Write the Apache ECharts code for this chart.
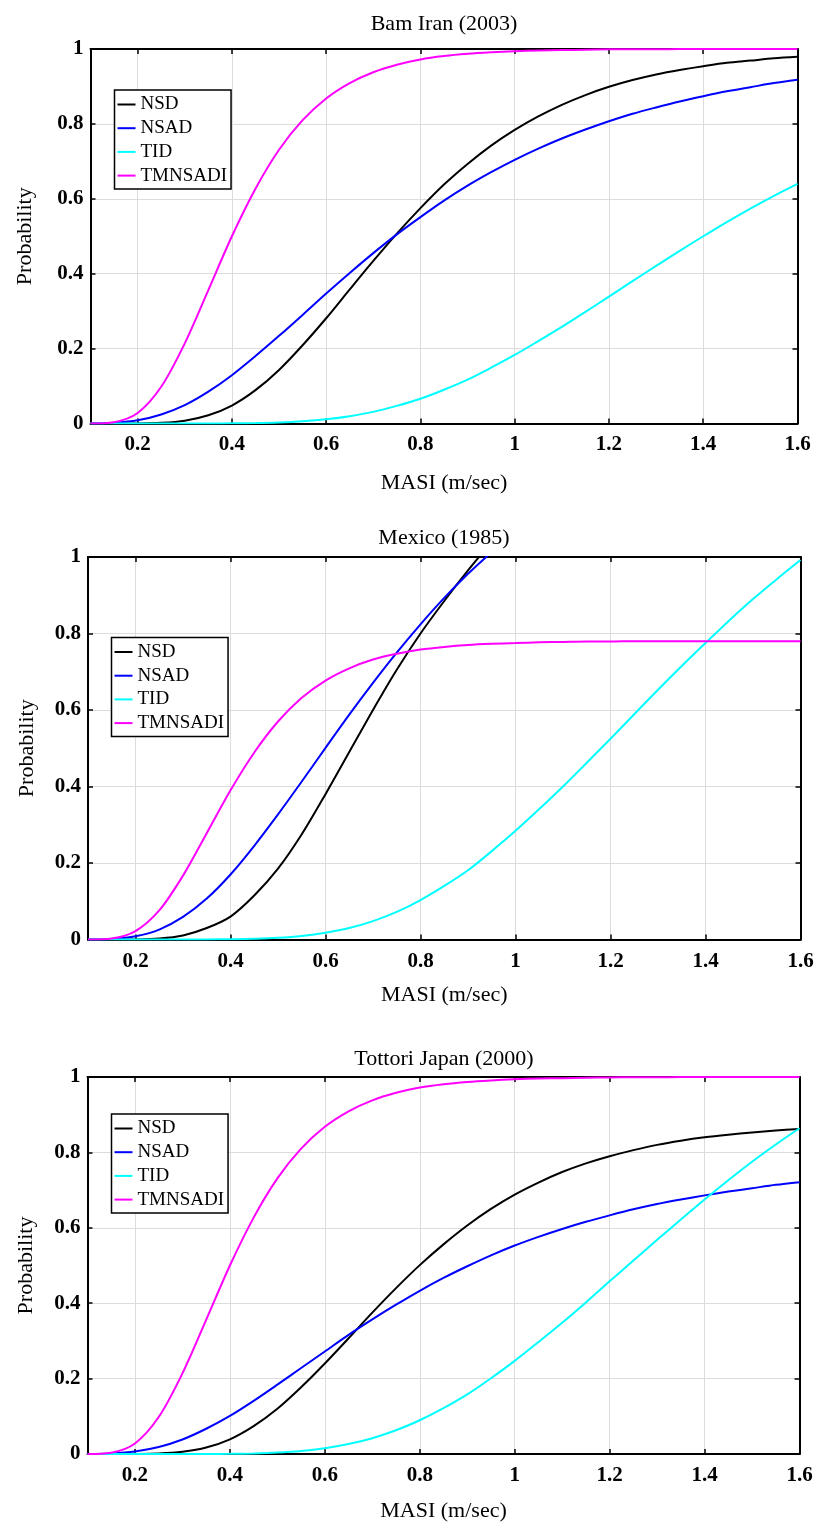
<!DOCTYPE html>
<html>
<head>
<meta charset="utf-8">
<title>Fragility curves</title>
<script src="https://cdn.jsdelivr.net/npm/echarts@6/dist/echarts.min.js"></script>
<style>
  html, body { margin: 0; padding: 0; background: #ffffff; }
  #main { width: 815px; height: 1524px; }
</style>
</head>
<body>
<div id="main"></div>
<script>
// MASI (m/sec) sample points shared by every curve
const masi = [0.1, 0.15, 0.2, 0.25, 0.3, 0.35, 0.4, 0.45, 0.5, 0.55, 0.6, 0.65, 0.7, 0.75, 0.8,
  0.85, 0.9, 0.95, 1.0, 1.05, 1.1, 1.15, 1.2, 1.25, 1.3, 1.35, 1.4, 1.45, 1.5, 1.55, 1.6];
const xTicks = [0.2, 0.4, 0.6, 0.8, 1, 1.2, 1.4, 1.6];
const names = ["NSD", "NSAD", "TID", "TMNSADI"];

// Bam Iran (2003)
const bamNsd = [0, 0, 0.0002, 0.0018, 0.0075, 0.022, 0.048, 0.089, 0.143, 0.209, 0.281, 0.358, 0.434, 0.507, 0.575,
  0.638, 0.693, 0.742, 0.784, 0.820, 0.851, 0.877, 0.899, 0.917, 0.932, 0.944, 0.954, 0.963, 0.969, 0.975, 0.979];
const bamNsad = [0.0001, 0.0018, 0.0084, 0.024, 0.049, 0.085, 0.129, 0.180, 0.234, 0.290, 0.347, 0.402, 0.455, 0.505, 0.551,
  0.595, 0.635, 0.671, 0.704, 0.734, 0.761, 0.785, 0.807, 0.827, 0.844, 0.860, 0.874, 0.887, 0.898, 0.909, 0.918];
const bamTid = [0, 0, 0, 0, 0, 0.0001, 0.0004, 0.0011, 0.0028, 0.006, 0.0114, 0.0196, 0.031, 0.047, 0.066,
  0.090, 0.117, 0.149, 0.183, 0.220, 0.258, 0.298, 0.339, 0.380, 0.421, 0.461, 0.500, 0.538, 0.574, 0.608, 0.640];
const bamTmnsadi = [0.0001, 0.0035, 0.028, 0.098, 0.214, 0.356, 0.500, 0.627, 0.731, 0.810, 0.868, 0.909, 0.938, 0.958, 0.972,
  0.981, 0.987, 0.991, 0.994, 0.996, 0.997, 0.998, 0.999, 0.9994, 0.9996, 0.9997, 0.9998, 0.9999, 0.9999, 1, 1];

// Mexico (1985) - NSD and NSAD leave the top of the box just after 0.9
const mexNsd = [0, 0, 0.0003, 0.0025, 0.0105, 0.030, 0.060, 0.115, 0.185, 0.275, 0.380, 0.490, 0.600, 0.705, 0.800,
  0.885, 0.965, 1.04];
const mexNsad = [0.0001, 0.0015, 0.0083, 0.026, 0.059, 0.107, 0.170, 0.245, 0.327, 0.413, 0.501, 0.588, 0.671, 0.750, 0.824,
  0.893, 0.956, 1.013];
const mexTid = [0, 0, 0, 0, 0, 0.0002, 0.0006, 0.0017, 0.0043, 0.0093, 0.0177, 0.030, 0.048, 0.072, 0.103,
  0.140, 0.181, 0.231, 0.284, 0.341, 0.400, 0.462, 0.525, 0.589, 0.653, 0.715, 0.775, 0.834, 0.890, 0.942, 0.992];
const mexTmnsadi = [0.0001, 0.0027, 0.022, 0.076, 0.167, 0.278, 0.390, 0.489, 0.570, 0.632, 0.677, 0.709, 0.732, 0.747, 0.758,
  0.765, 0.770, 0.773, 0.775, 0.777, 0.778, 0.779, 0.779, 0.78, 0.78, 0.78, 0.78, 0.78, 0.78, 0.78, 0.78];

// Tottori Japan (2000)
const totNsd = [0, 0, 0.0002, 0.0013, 0.0059, 0.017, 0.039, 0.074, 0.120, 0.177, 0.240, 0.307, 0.375, 0.440, 0.501,
  0.556, 0.606, 0.650, 0.688, 0.720, 0.748, 0.771, 0.790, 0.806, 0.820, 0.831, 0.840, 0.847, 0.853, 0.858, 0.862];
const totNsad = [0.0001, 0.0014, 0.0066, 0.0185, 0.0385, 0.067, 0.101, 0.141, 0.184, 0.228, 0.272, 0.316, 0.357, 0.396, 0.433,
  0.467, 0.498, 0.527, 0.553, 0.576, 0.597, 0.616, 0.633, 0.649, 0.663, 0.675, 0.686, 0.696, 0.705, 0.714, 0.721];
const totTid = [0, 0, 0, 0, 0, 0.0001, 0.0005, 0.0015, 0.0038, 0.0081, 0.0154, 0.0265, 0.042, 0.063, 0.0895,
  0.1215, 0.158, 0.201, 0.247, 0.297, 0.348, 0.402, 0.458, 0.513, 0.568, 0.622, 0.675, 0.726, 0.775, 0.821, 0.864];
const totTmnsadi = [0.0001, 0.0035, 0.028, 0.098, 0.214, 0.356, 0.500, 0.627, 0.731, 0.810, 0.868, 0.909, 0.938, 0.958, 0.972,
  0.981, 0.987, 0.991, 0.994, 0.996, 0.997, 0.998, 0.999, 0.9994, 0.9996, 0.9997, 0.9998, 0.9999, 0.9999, 1, 1];

const serif = "'Liberation Serif', 'Times New Roman', serif";
const colors = ["#000000", "#0000ff", "#00ffff", "#ff00ff"];

const panels = [
  { title: "Bam Iran (2003)", titleTop: 13, grid: { left: 90.5, top: 49, width: 707, height: 374.5 },
    xGap: 49, yGap: 54, labelMargin: 11, legend: { left: 114.5, top: 90 },
    curves: [bamNsd, bamNsad, bamTid, bamTmnsadi] },
  { title: "Mexico (1985)", titleTop: 527, grid: { left: 88, top: 557, width: 712.5, height: 382.5 },
    xGap: 45, yGap: 50, labelMargin: 12, legend: { left: 111.5, top: 637.5 },
    curves: [mexNsd, mexNsad, mexTid, mexTmnsadi] },
  { title: "Tottori Japan (2000)", titleTop: 1048, grid: { left: 87.5, top: 1077, width: 712, height: 377 },
    xGap: 46, yGap: 50, labelMargin: 11, legend: { left: 111.5, top: 1114 },
    curves: [totNsd, totNsad, totTid, totTmnsadi] }
];

const frame = { show: true, onZero: false, lineStyle: { color: "#000", width: 2 } };
const tick = { show: true, inside: true, length: 5, lineStyle: { color: "#000", width: 1.5 } };
const split = { show: true, lineStyle: { color: "#dcdcdc", width: 1 } };
const tickFont = { color: "#000", fontFamily: serif, fontSize: 21, fontWeight: "bold" };
const nameFont = { color: "#000", fontFamily: serif, fontSize: 22 };

let option = {
  animation: false,
  backgroundColor: "#ffffff",
  title: [], grid: [], xAxis: [], yAxis: [], legend: [], series: []
};

panels.forEach((p, i) => {
  option.title.push({
    text: p.title, left: 444, top: p.titleTop, textAlign: "center", padding: 0,
    textStyle: { color: "#000", fontFamily: serif, fontSize: 22, fontWeight: "normal" }
  });
  option.grid.push(Object.assign({ outerBoundsMode: "none", containLabel: false }, p.grid));

  // bottom + top x axes
  option.xAxis.push({
    type: "value", gridIndex: i, position: "bottom", min: 0.1, max: 1.6,
    name: "MASI (m/sec)", nameLocation: "middle", nameGap: p.xGap, nameTextStyle: nameFont,
    axisLine: frame, axisTick: Object.assign({ customValues: xTicks }, tick),
    axisLabel: Object.assign({ customValues: xTicks, margin: p.labelMargin }, tickFont),
    splitLine: split
  });
  option.xAxis.push({
    type: "value", gridIndex: i, position: "top", min: 0.1, max: 1.6,
    axisLine: frame, axisTick: Object.assign({ customValues: xTicks }, tick),
    axisLabel: { show: false }, splitLine: { show: false }
  });

  // left + right y axes
  option.yAxis.push({
    type: "value", gridIndex: i, position: "left", min: 0, max: 1, interval: 0.2,
    name: "Probability", nameLocation: "middle", nameGap: p.yGap, nameTextStyle: nameFont,
    axisLine: frame, axisTick: tick,
    axisLabel: Object.assign({ margin: 7 }, tickFont),
    splitLine: split
  });
  option.yAxis.push({
    type: "value", gridIndex: i, position: "right", min: 0, max: 1, interval: 0.2,
    axisLine: frame, axisTick: tick, axisLabel: { show: false }, splitLine: { show: false }
  });

  // legend keys drawn as short flat bars so they read as line samples
  option.legend.push({
    data: names, orient: "vertical", left: p.legend.left, top: p.legend.top,
    icon: "rect", itemWidth: 18, itemHeight: 2,
    padding: [5, 4, 4, 3], itemGap: 4.7,
    backgroundColor: "#ffffff", borderColor: "#000", borderWidth: 1.5, borderRadius: 0,
    textStyle: { color: "#000", fontFamily: serif, fontSize: 19 }
  });

  p.curves.forEach((vals, k) => {
    option.series.push({
      name: names[k], type: "line", xAxisIndex: i * 2, yAxisIndex: i * 2,
      data: vals.map((v, j) => [masi[j], v]),
      symbol: "none", showSymbol: false, smooth: 0.3, clip: true,
      lineStyle: { color: colors[k], width: 2 }, itemStyle: { color: colors[k] }
    });
  });
});

let myChart = echarts.init(document.getElementById("main"), null, { renderer: "canvas" });
myChart.setOption(option);
</script>
</body>
</html>
